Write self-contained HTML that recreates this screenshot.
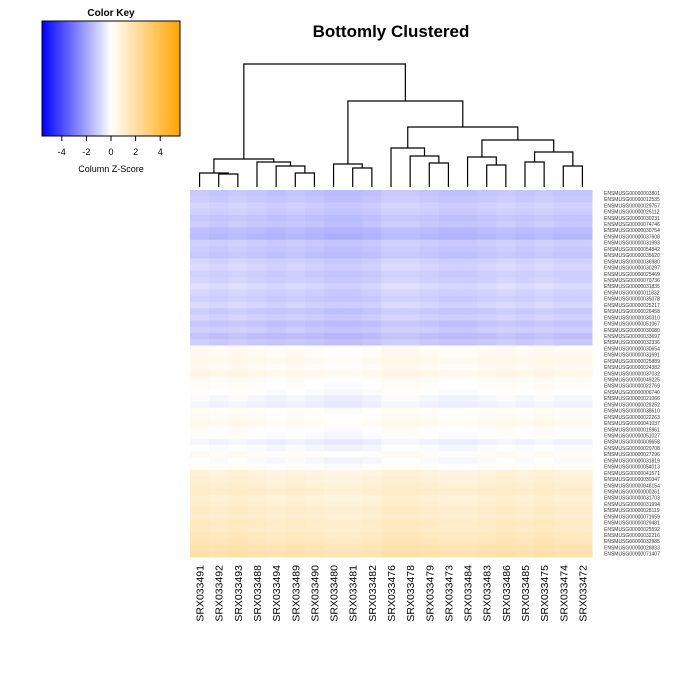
<!DOCTYPE html>
<html><head><meta charset="utf-8">
<style>
body{margin:0;background:#fff;}
svg{display:block;font-family:"Liberation Sans",Arial,sans-serif;}
</style></head>
<body>
<svg id="chart" width="700" height="700" viewBox="0 0 700 700">
<defs>
<linearGradient id="kg" x1="0" x2="1" y1="0" y2="0">
<stop offset="0" stop-color="#0000ff"/><stop offset="0.5" stop-color="#ffffff"/><stop offset="1" stop-color="#ffa500"/>
</linearGradient>
</defs>
<text x="391" y="37" font-size="17" font-weight="bold" text-anchor="middle">Bottomly Clustered</text>
<g>
<text x="111" y="16" font-size="10" font-weight="bold" text-anchor="middle">Color Key</text>
<rect x="42" y="21" width="138" height="115" fill="url(#kg)" stroke="#000" stroke-width="1"/>
<g id="keyticks"></g>
<text x="111" y="172" font-size="9" text-anchor="middle">Column Z-Score</text>
</g>
<g id="heat"></g>
<g id="dendro" stroke="#000" stroke-width="1.2" fill="none"></g>
<g id="rowlabels"></g>
<g id="collabels"></g>
</svg>
<script>
const columns=["SRX033491","SRX033492","SRX033493","SRX033488","SRX033494","SRX033489","SRX033490","SRX033480","SRX033481","SRX033482","SRX033476","SRX033478","SRX033479","SRX033473","SRX033484","SRX033483","SRX033486","SRX033485","SRX033475","SRX033474","SRX033472"];
const genes=["003801","012535","029757","026112","030231","074746","030754","037608","031993","054842","035620","036980","030297","025469","070736","031835","011832","035078","025217","026458","030310","051067","030080","033697","032336","030654","031691","025889","024382","037032","049225","022769","006740","021066","029252","038610","022263","041037","015961","051027","009658","020708","027296","031819","054013","041571","030347","048154","000261","031703","031994","028119","071659","029481","025592","032216","032985","028833","071407"];
const rowValues=[-1.3,-1.2,-1.0,-1.1,-1.3,-1.2,-1.5,-1.6,-1.1,-1.2,-1.3,-1.0,-0.9,-1.1,-1.0,-0.8,-1.0,-1.1,-0.9,-1.2,-1.0,-1.3,-1.1,-1.4,-1.2,
0.2,0.3,0.4,0.3,0.5,0.2,0.1,0.0,-0.2,-0.3,0.1,0.2,0.3,0.1,0.0,-0.3,-0.1,0.2,-0.1,0.1,
0.8,0.9,1.0,1.1,0.9,1.0,1.2,1.1,1.3,1.2,1.4,1.5,1.7,1.8];
const colOffsets=[0.1,0.0,0.1,0.0,-0.1,0.0,-0.1,-0.2,-0.2,-0.1,0.1,0.1,0.0,-0.1,-0.1,0.0,0.1,0.0,0.1,0.0,0.0];
const keyTicks=[-4,-2,0,2,4];
// merges: negative = leaf index (1-based), positive = earlier merge, then height
const mergeLeft=[-2,-1,-6,-5,-4,2,-9,-8,-13,-12,-11,-16,-15,-18,-20,14,13,11,8,6];
const mergeRight=[-3,1,-7,3,4,5,-10,7,-14,9,10,-17,12,-19,-21,15,16,17,18,19];
const mergeHeight=[13,14,14,21,25,28,19,23,24,31,39,22,30,25,21,35,47,60,86,123];

const NS="http://www.w3.org/2000/svg";
function mk(t,a,p){const e=document.createElementNS(NS,t);for(const k in a)e.setAttribute(k,a[k]);p.appendChild(e);return e;}
const hx0=190,hx1=592,hy0=190,hy1=557;
const cw=(hx1-hx0)/columns.length, rh=(hy1-hy0)/genes.length;
const xCol=i=>hx0+i*cw, yRow=j=>hy0+j*rh;
const keyX=v=>111+v*12.3;
function zcolor(z){z=Math.max(-5.6,Math.min(5.6,z));const t=Math.abs(z)/5.6;
 if(z<0){const c=Math.round(255*(1-t));return `rgb(${c},${c},255)`;}
 return `rgb(255,${Math.round(255-90*t)},${Math.round(255*(1-t))})`;}
const keyG=document.getElementById('keyticks');
keyTicks.forEach(v=>{const l=mk('line',{x1:keyX(v),x2:keyX(v),y1:136,y2:141,stroke:'#000'},keyG);


const t=mk('text',{x:keyX(v),y:155,'font-size':9,'text-anchor':'middle'},keyG);t.textContent=v;

});
const heat=document.getElementById('heat');
rowValues.forEach((rv,j)=>{colOffsets.forEach((co,i)=>{
 const r=mk('rect',{x:xCol(i),y:yRow(j),width:cw+0.5,height:rh+0.5,fill:zcolor(rv+co)},heat);
 
 });});
const rl=document.getElementById('rowlabels');
genes.forEach((g,j)=>{const t=mk('text',{x:604,y:yRow(j)+rh/2+1.8,'font-size':5,fill:'#333'},rl);t.textContent='ENSMUSG00000'+g;
 
 });
const cl=document.getElementById('collabels');
columns.forEach((c,i)=>{const x=xCol(i)+cw/2+4;const t=mk('text',{x:x,y:565,'font-size':10.5,'text-anchor':'end',transform:`rotate(-90 ${x} 565)`},cl);t.textContent=c;
 
 });
// dendrogram
const dg=document.getElementById('dendro');
const leafY=187, hy=h=>leafY-h;
const pos=[];
function node(n){if(n<0)return {x:xCol(-n-1)+cw/2,h:0};return pos[n-1];}
for(let m=0;m<mergeLeft.length;m++){
 const a=node(mergeLeft[m]),b=node(mergeRight[m]),h=mergeHeight[m];
 const p=mk('path',{d:`M${a.x},${hy(a.h)}V${hy(h)}H${b.x}V${hy(b.h)}`},dg);
 
 
 pos.push({x:(a.x+b.x)/2,h:h});
}
</script>
</body></html>
